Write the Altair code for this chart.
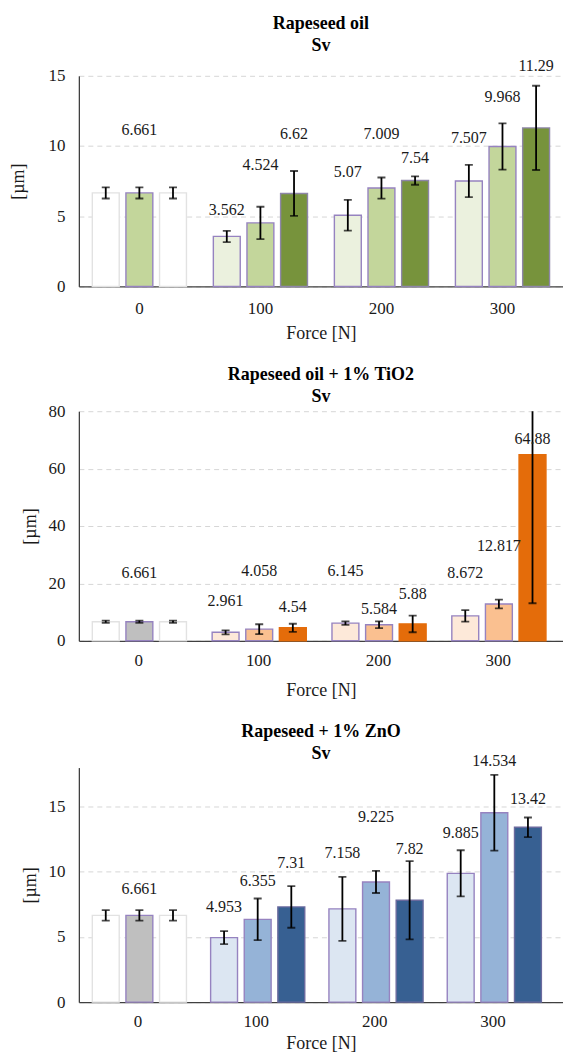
import altair as alt
import pandas as pd

forces = ["0", "100", "200", "300"]
series = ["s1", "s2", "s3"]

# ---- Rapeseed oil ----
oil_values = [[6.661, 3.562, 5.07, 7.507],
              [6.661, 4.524, 7.009, 9.968],
              [6.661, 6.62, 7.54, 11.29]]
oil_errors = [[0.4, 0.4, 1.1, 1.15],
              [0.4, 1.15, 0.75, 1.65],
              [0.4, 1.6, 0.3, 3.0]]
oil_label_at = [[None, 5.43, 8.15, 10.56],
                [11.17, 8.62, 10.87, 13.47],
                [None, 10.87, 9.14, 15.71]]

# ---- Rapeseed oil + 1% TiO2 ----
tio_values = [[6.661, 2.961, 6.145, 8.672],
              [6.661, 4.058, 5.584, 12.817],
              [6.661, 4.54, 5.88, 64.88]]
tio_errors = [[0.4, 0.7, 0.6, 2.0],
              [0.4, 1.7, 1.2, 1.5],
              [0.4, 1.4, 2.9, 51.8]]
tio_label_at = [[None, 13.7, 24.4, 23.7],
                [23.7, 24.4, 11.1, 33.1],
                [None, 11.9, 16.2, 70.4]]

# ---- Rapeseed + 1% ZnO ----
zno_values = [[6.661, 4.953, 7.158, 9.885],
              [6.661, 6.355, 9.225, 14.534],
              [6.661, 7.31, 7.82, 13.42]]
zno_errors = [[0.4, 0.5, 2.45, 1.77],
              [0.4, 1.6, 0.85, 2.9],
              [0.4, 1.6, 3.0, 0.75]]
zno_label_at = [[None, 7.3, 11.43, 13.0],
                [8.7, 9.26, 14.18, 18.5],
                [None, 10.71, 11.76, 15.56]]

kinds = ["blank", "ref", "light", "mid", "dark"]
oil_fill = ["#FFFFFF", "#C3D69B", "#EBF1DE", "#C3D69B", "#77933C"]
tio_fill = ["#FFFFFF", "#BFBFBF", "#FDE9D9", "#FAC090", "#E46C0A"]
zno_fill = ["#FFFFFF", "#BFBFBF", "#DCE6F2", "#95B3D7", "#376092"]
PURPLE = "#9683C0"
oil_stroke = ["#E2E2E2", PURPLE, PURPLE, PURPLE, "#8E86A8"]
tio_stroke = ["#E2E2E2", PURPLE, PURPLE, PURPLE, "#E46C0A"]
zno_stroke = ["#E2E2E2", PURPLE, PURPLE, PURPLE, "#6A6A9E"]

FONT = "Liberation Serif, Times New Roman, serif"


def frame(values, errors, label_at, tag):
    rows = []
    for si, s in enumerate(series):
        for fi, f in enumerate(forces):
            v = values[si][fi]
            e = errors[si][fi]
            if fi == 0:
                kind = "ref" if si == 1 else "blank"
            else:
                kind = ["light", "mid", "dark"][si]
            lab = label_at[si][fi]
            rows.append({
                "force": f, "series": s, "value": v,
                "lo": v - e, "hi": v + e, "kind": tag + kind,
                "label": str(v) if lab is not None else "",
                "label_at": lab if lab is not None else 0,
            })
    return pd.DataFrame(rows)


def panel(tag, title, values, errors, label_at, fills, strokes, width, height,
          ymax, yticks, pad_outer, y_title_pad, x_label_pad, x_title_pad, title_offset):
    df = frame(values, errors, label_at, tag)
    dom = [tag + k for k in kinds]
    x = alt.X("force:N", sort=forces,
              scale=alt.Scale(paddingInner=0, paddingOuter=pad_outer, align=0),
              axis=alt.Axis(title="Force [N]", labelAngle=0, ticks=False,
                            labelFont=FONT, titleFont=FONT,
                            labelPadding=x_label_pad, titlePadding=x_title_pad,
                            domainColor="#404040", domainWidth=1.3))
    xo = alt.XOffset("series:N", sort=series,
                     scale=alt.Scale(paddingInner=0.2, paddingOuter=0.4))
    yscale = alt.Scale(domain=[0, ymax], nice=False)
    base = alt.Chart(df).encode(x=x, xOffset=xo)
    bars = base.mark_bar(strokeWidth=1.4).encode(
        y=alt.Y("value:Q", scale=yscale,
                axis=alt.Axis(title="[µm]", values=yticks, ticks=False,
                              labelFont=FONT, titleFont=FONT,
                              grid=True, gridDash=[5, 4], gridColor="#D6D6D6",
                              domainColor="#404040", domainWidth=1.3,
                              labelPadding=14, titlePadding=y_title_pad)),
        fill=alt.Fill("kind:N", scale=alt.Scale(domain=dom, range=fills), legend=None),
        stroke=alt.Stroke("kind:N", scale=alt.Scale(domain=dom, range=strokes), legend=None),
    )
    err = base.mark_rule(color="black", strokeWidth=1.8, clip=True).encode(
        y=alt.Y("lo:Q", scale=yscale), y2="hi:Q")
    cap_lo = base.mark_tick(color="black", size=8, thickness=1.8, clip=True,
                            orient="horizontal").encode(y=alt.Y("lo:Q", scale=yscale))
    cap_hi = base.mark_tick(color="black", size=8, thickness=1.8, clip=True,
                            orient="horizontal").encode(y=alt.Y("hi:Q", scale=yscale))
    labels = base.mark_text(font=FONT, fontSize=16, color="#1A1A1A",
                            baseline="middle").encode(
        y=alt.Y("label_at:Q", scale=yscale), text="label:N")
    return alt.layer(bars, err, cap_lo, cap_hi, labels).properties(
        width=width, height=height,
        title=alt.TitleParams(text=title, font=FONT, fontSize=18,
                              fontWeight="bold", lineHeight=22,
                              color="black", offset=title_offset, anchor="middle"),
    )


c1 = panel("a_", ["Rapeseed oil", "Sv"], oil_values, oil_errors, oil_label_at,
           oil_fill, oil_stroke, 485, 211, 15, [0, 5, 10, 15], 0.0, 20, 14, 8, 3)
c2 = panel("b_", ["Rapeseed oil + 1% TiO2", "Sv"], tio_values, tio_errors, tio_label_at,
           tio_fill, tio_stroke, 485, 230, 80, [0, 20, 40, 60, 80], 0.02, 8, 12, 13, -4)
c3 = panel("c_", ["Rapeseed + 1% ZnO", "Sv"], zno_values, zno_errors, zno_label_at,
           zno_fill, zno_stroke, 485, 235, 18, [0, 5, 10, 15], 0.046, 8, 11, 5, -10)

lower = alt.vconcat(c2, c3, spacing=23).resolve_scale(fill="independent", stroke="independent")
chart = alt.vconcat(c1, lower, spacing=24).resolve_scale(
    fill="independent", stroke="independent"
).properties(
    padding={"left": 10, "top": 14, "right": 0, "bottom": 0},
    background="white",
).configure_view(stroke=None).configure_axis(
    labelFont=FONT, labelFontSize=17, labelColor="#1A1A1A",
    titleFont=FONT, titleFontSize=18, titleFontWeight="normal", titleColor="#1A1A1A",
)

chart.save("out.html", embed_options={"renderer": "svg", "actions": False})
